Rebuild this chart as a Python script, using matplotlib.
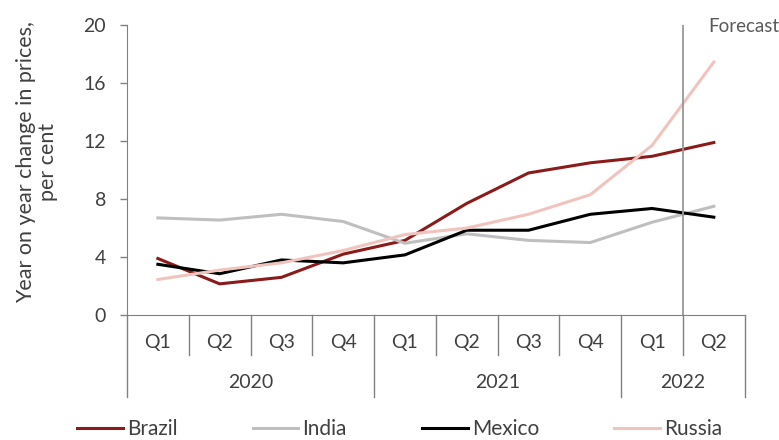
import matplotlib
matplotlib.use("Agg")
import matplotlib.pyplot as plt

plt.rcParams['font.family'] = ['Lato', 'DejaVu Sans']

quarters = ["Q1", "Q2", "Q3", "Q4", "Q1", "Q2", "Q3", "Q4", "Q1", "Q2"]
years = ["2020", "2021", "2022"]
year_spans = [(0, 4), (4, 8), (8, 10)]

brazil = [3.9, 2.15, 2.6, 4.2, 5.15, 7.7, 9.8, 10.5, 10.95, 11.9]
india = [6.7, 6.55, 6.95, 6.45, 4.95, 5.6, 5.15, 5.0, 6.4, 7.5]
mexico = [3.5, 2.85, 3.8, 3.6, 4.15, 5.85, 5.85, 6.95, 7.35, 6.75]
russia = [2.45, 3.1, 3.6, 4.45, 5.55, 6.0, 6.95, 8.3, 11.7, 17.45]

names = ["Brazil", "India", "Mexico", "Russia"]
colors = ["#8b1a1a", "#bfbfbf", "#000000", "#f0c4be"]
text_col = "#404040"
axis_col = "#808080"

fig = plt.figure(figsize=(7.79, 4.4), dpi=100)
ax = fig.add_axes([0.163, 0.284, 0.793, 0.659])

x = range(len(quarters))
for vals, name, c in zip([brazil, india, mexico, russia], names, colors):
    ax.plot(x, vals, color=c, lw=2.2, label=name)

ax.set_xlim(-0.5, 9.5)
ax.set_ylim(0, 20)
ax.set_yticks([0, 4, 8, 12, 16, 20])
ax.tick_params(axis='y', colors=axis_col, labelcolor=text_col, labelsize=14, length=5, width=1, pad=10)
ax.set_xticks([])
for s in ["top", "right"]:
    ax.spines[s].set_visible(False)
ax.spines["left"].set_color(axis_col)
ax.spines["bottom"].set_color(axis_col)
fig.text(37 / 779, 0.632, "Year on year change in prices,\nper cent", rotation=90,
         ha="center", va="center", fontsize=15.5, color=text_col, linespacing=1.15)

# forecast line
ax.axvline(8.5, color="#999999", lw=1.3)
fig.text(708 / 779, 1 - 18 / 440, "Forecast", fontsize=13.5, color="#595959", ha="left", va="top")

# two-level category axis
tr = ax.get_xaxis_transform()
for k in range(11):
    b = k - 0.5
    bottom = -0.283 if b in (-0.5, 3.5, 7.5, 9.5) else -0.138
    ax.plot([b, b], [0, bottom], transform=tr, color=axis_col, lw=1, clip_on=False)
for i, q in enumerate(quarters):
    ax.text(i, -0.093, q, transform=tr, ha="center", va="center", fontsize=14, color=text_col)
for yr, (a, b) in zip(years, year_spans):
    ax.text((a + b - 1) / 2, -0.234, yr, transform=tr, ha="center", va="center", fontsize=14, color=text_col)

fig.legend(loc="center", bbox_to_anchor=(0.513, 0.025), ncol=4, frameon=False,
           fontsize=15, handlelength=2.2, handletextpad=0.2, columnspacing=3.6,
           labelcolor=text_col)

fig.savefig("out.png", dpi=100)
